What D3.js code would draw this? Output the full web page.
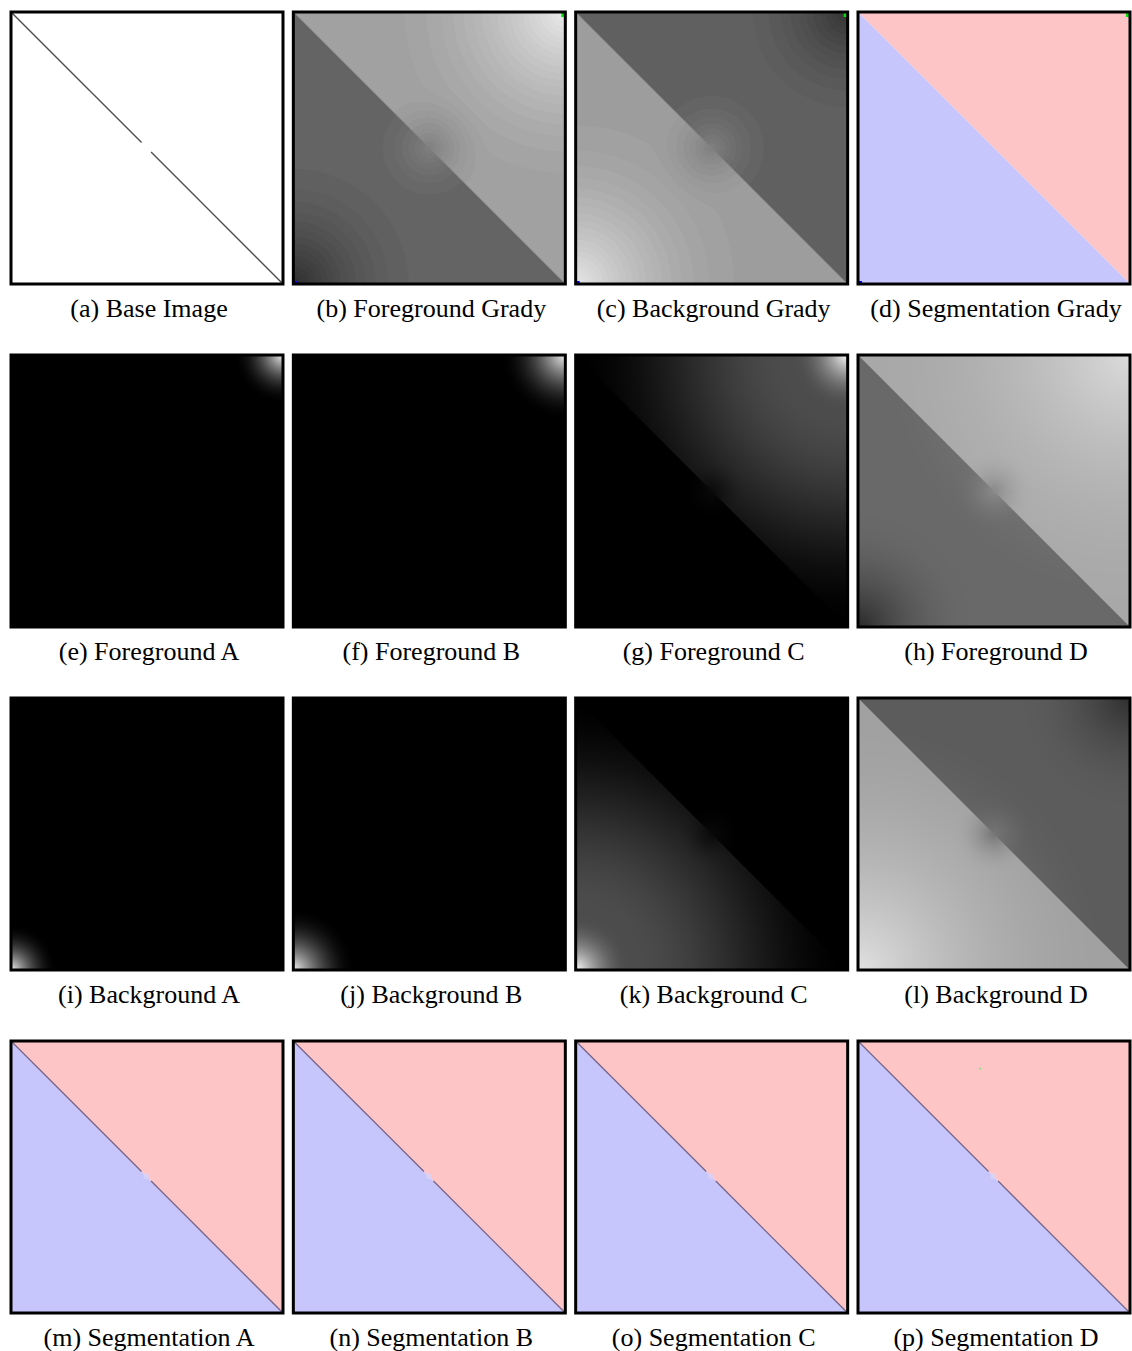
<!DOCTYPE html>
<html>
<head>
<meta charset="utf-8">
<script src="https://cdn.jsdelivr.net/npm/d3@7"></script>
<style>
  body { margin: 0; background: #ffffff; }
</style>
</head>
<body>
<script>
// Panel captions, in reading order (4 x 4 grid)
const panelLetters = ["a","b","c","d","e","f","g","h","i","j","k","l","m","n","o","p"];
const panelTitles = [
  "Base Image", "Foreground Grady", "Background Grady", "Segmentation Grady",
  "Foreground A", "Foreground B", "Foreground C", "Foreground D",
  "Background A", "Background B", "Background C", "Background D",
  "Segmentation A", "Segmentation B", "Segmentation C", "Segmentation D"
];
const panelKinds = [
  "base", "gray", "gray", "seg",
  "gray", "gray", "gray", "gray",
  "gray", "gray", "gray", "gray",
  "seg", "seg", "seg", "seg"
];

// Grey-level maps (probability images, 0 = black, 1 = white).
// One entry per grey panel, listed in the order of grayPanels.
const grayPanels   = ["b",  "c",  "e",  "f",  "g",  "h",  "i",  "j",  "k",  "l"];
const sideUpper    = [0.63, 0.38, 0,    0,    0,    0.66, 0,    0,    0,    0.36];
const sideLower    = [0.39, 0.62, 0,    0,    0,    0.41, 0,    0,    0,    0.63];
const washUpper    = [0,    0,    0,    0,    0.30, 0,    0,    0,    0,    0];
const washLower    = [0,    0,    0,    0,    0,    0,    0,    0,    0.30, 0];
const fgPeak       = [0.92, 0.20, 0.95, 0.95, 1.00, 0.86, 0,    0,    0,    0.18];
const fgRadius     = [0.70, 0.45, 0.18, 0.24, 0.20, 0.95, 0.01, 0.01, 0.01, 0.42];
const bgPeak       = [0.18, 0.90, 0,    0,    0,    0.16, 0.95, 0.95, 1.00, 0.88];
const bgRadius     = [0.50, 0.65, 0.01, 0.01, 0.01, 0.42, 0.17, 0.23, 0.20, 0.95];
const centerLevel  = [0.50, 0.50, 0,    0,    0.04, 0.54, 0,    0,    0.04, 0.46];
const centerRadius = [0.24, 0.24, 0.01, 0.01, 0.12, 0.15, 0.01, 0.01, 0.12, 0.15];
const bandStep     = [0.014,0.014,0,    0,    0,    0,    0,    0,    0,    0];

// Segmentation colours and seeds
const labelColors = { upper: "#fec5c7", lower: "#c6c6fd" };
const seedPanels = ["b", "c", "d"];
const boundaryPanels = ["m", "n", "o", "p"];
const lineGap = [0.48, 0.515];          // break in the diagonal edge
const strayPoints = [{ panel: "p", u: 0.447, v: 0.099 }];

const SIZE = 272;
const svg = d3.select("body").append("svg")
  .attr("width", 1132).attr("height", 1351);

const colX = d3.scaleLinear().domain([0, 3]).range([11, 858]);
const rowY = d3.scaleLinear().domain([0, 3]).range([12, 1041]);
const ux = d3.scaleLinear().domain([0, 1]).range([0, SIZE]);
const uy = d3.scaleLinear().domain([0, 1]).range([0, SIZE]);
const toByte = d3.scaleLinear().domain([0, 1]).range([0, 255]).clamp(true);

const clamp01 = t => Math.max(0, Math.min(1, t));
const smoothstep = (a, b, x) => { const t = clamp01((x - a) / (b - a)); return t * t * (3 - 2 * t); };
const falloff = (d, r) => { const t = Math.max(0, 1 - d / r); return t * t; };

function grayValue(k, u, v) {
  const s = clamp01(0.5 + (u - v) * SIZE);          // 1 on the upper-right side
  const d1 = Math.hypot(1 - u, v);                   // to foreground seed (top-right)
  const d0 = Math.hypot(u, 1 - v);                   // to background seed (bottom-left)
  const dc = Math.hypot(u - 0.5, v - 0.5);
  let p = sideLower[k] * (1 - s) + sideUpper[k] * s;
  p += s * washUpper[k] * (1 - smoothstep(0.2, 1.0, d1));
  p += (1 - s) * washLower[k] * (1 - smoothstep(0.2, 1.0, d0));
  p += (fgPeak[k] - p) * falloff(d1, fgRadius[k]);
  p += (bgPeak[k] - p) * falloff(d0, bgRadius[k]);
  p += (centerLevel[k] - p) * falloff(dc, centerRadius[k]);
  if (bandStep[k] > 0) p = Math.round(p / bandStep[k]) * bandStep[k];
  return p;
}

function grayImage(k) {
  const canvas = document.createElement("canvas");
  canvas.width = SIZE; canvas.height = SIZE;
  const ctx = canvas.getContext("2d");
  const img = ctx.createImageData(SIZE, SIZE);
  for (let y = 0; y < SIZE; y++) {
    for (let x = 0; x < SIZE; x++) {
      const g = Math.round(toByte(grayValue(k, ux.invert(x + 0.5), uy.invert(y + 0.5))));
      const o = (y * SIZE + x) * 4;
      img.data[o] = g; img.data[o + 1] = g; img.data[o + 2] = g; img.data[o + 3] = 255;
    }
  }
  ctx.putImageData(img, 0, 0);
  return canvas.toDataURL();
}

const diagonal = d3.line().x(d => ux(d)).y(d => uy(d));

panelLetters.forEach((letter, i) => {
  const g = svg.append("g")
    .attr("transform", `translate(${colX(i % 4)},${rowY(Math.floor(i / 4))})`);
  const kind = panelKinds[i];

  if (kind === "base") {
    g.append("rect").attr("width", SIZE).attr("height", SIZE).attr("fill", "#ffffff");
    [[0, lineGap[0]], [lineGap[1], 1]].forEach(seg => {
      g.append("path").attr("d", diagonal(seg))
        .attr("fill", "none").attr("stroke", "#505050").attr("stroke-width", 1.4);
    });
  } else if (kind === "gray") {
    const k = grayPanels.indexOf(letter);
    g.append("image").attr("width", SIZE).attr("height", SIZE)
      .attr("preserveAspectRatio", "none")
      .attr("href", grayImage(k));
  } else {
    g.append("path")
      .attr("d", d3.line()([[ux(0), uy(0)], [ux(1), uy(0)], [ux(1), uy(1)]]) + "Z")
      .attr("fill", labelColors.upper);
    g.append("path")
      .attr("d", d3.line()([[ux(0), uy(0)], [ux(1), uy(1)], [ux(0), uy(1)]]) + "Z")
      .attr("fill", labelColors.lower);
    if (boundaryPanels.includes(letter)) {
      [[0, lineGap[0]], [lineGap[1], 1]].forEach(seg => {
        g.append("path").attr("d", diagonal(seg))
          .attr("fill", "none").attr("stroke", "#786585").attr("stroke-width", 1.3);
      });
      g.append("circle")
        .attr("cx", ux((lineGap[0] + lineGap[1]) / 2)).attr("cy", uy((lineGap[0] + lineGap[1]) / 2))
        .attr("r", 3).attr("fill", "#d8d2f6").attr("opacity", 0.8);
    }
  }

  if (seedPanels.includes(letter)) {
    g.append("rect").attr("x", ux(1) - 4).attr("y", uy(0)).attr("width", 4).attr("height", 5)
      .attr("fill", "#00e000");
    g.append("rect").attr("x", ux(0)).attr("y", uy(1) - 3).attr("width", 4).attr("height", 3)
      .attr("fill", "#0000ff");
  }
  strayPoints.filter(p => p.panel === letter).forEach(p => {
    g.append("rect").attr("x", ux(p.u)).attr("y", uy(p.v)).attr("width", 1.5).attr("height", 1.5)
      .attr("fill", "#66dd66");
  });

  g.append("rect").attr("width", SIZE).attr("height", SIZE)
    .attr("fill", "none").attr("stroke", "#000000").attr("stroke-width", 3);

  g.append("text")
    .attr("x", SIZE / 2 + 2).attr("y", SIZE + 33)
    .attr("text-anchor", "middle")
    .attr("font-family", "'Liberation Serif', 'Times New Roman', Times, serif")
    .attr("font-size", 26)
    .attr("fill", "#000000")
    .text(`(${letter}) ${panelTitles[i]}`);
});
</script>
</body>
</html>
